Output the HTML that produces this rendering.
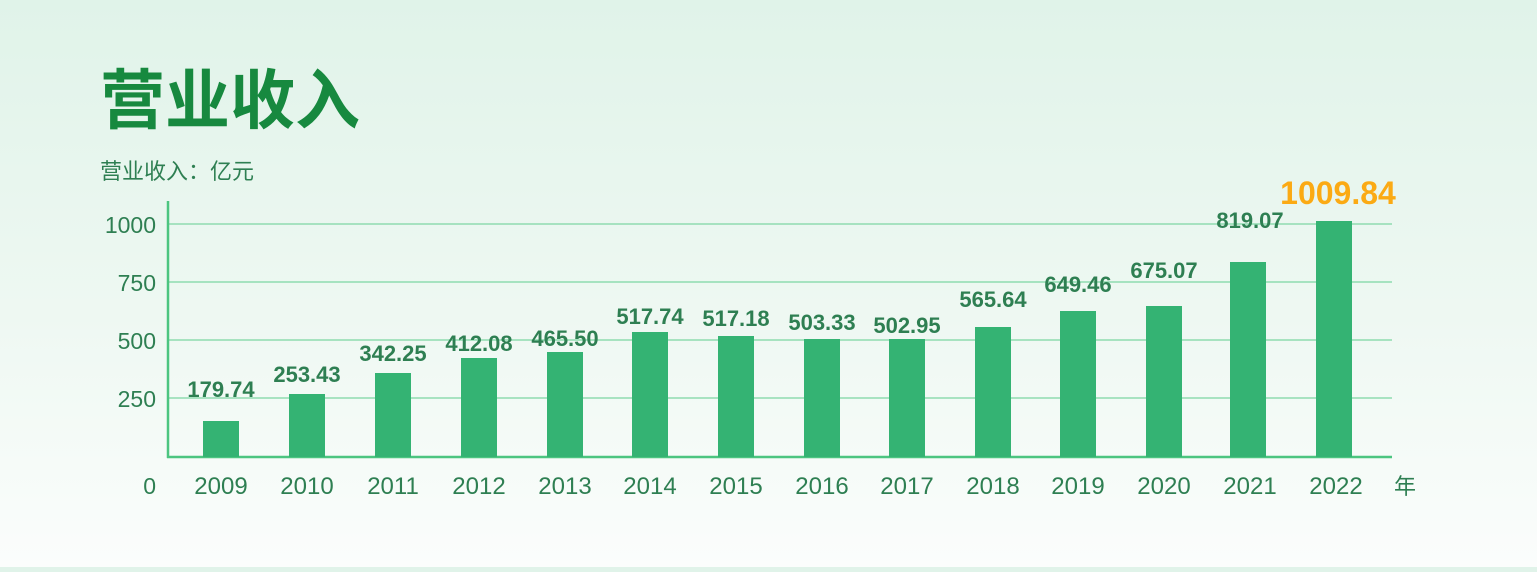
<!DOCTYPE html>
<html><head><meta charset="utf-8"><style>
html,body{margin:0;padding:0}
body{width:1537px;height:567px;overflow:hidden;background:linear-gradient(#e0f3e9,#eef8f2 55%,#fbfdfc);font-family:"Liberation Sans","Noto Sans CJK SC",sans-serif}
</style></head><body>
<svg width="1537" height="567" xmlns="http://www.w3.org/2000/svg" font-family="Liberation Sans, Noto Sans CJK SC, sans-serif">
<text x="100" y="123" font-size="65" font-weight="bold" fill="#17893f" font-family="Noto Sans CJK SC, sans-serif">营业收入</text>
<text x="100" y="179" font-size="22" fill="#2e7f52" font-family="Noto Sans CJK SC, sans-serif">营业收入：亿元</text>
<g stroke="#8fdcb0" stroke-width="1.5">
<line x1="168" y1="224" x2="1392" y2="224"/><line x1="168" y1="282" x2="1392" y2="282"/>
<line x1="168" y1="340" x2="1392" y2="340"/><line x1="168" y1="398" x2="1392" y2="398"/>
</g>
<line x1="168" y1="201" x2="168" y2="458" stroke="#4cc580" stroke-width="2.5"/>
<line x1="167" y1="457" x2="1392" y2="457" stroke="#4cc580" stroke-width="2.5"/>
<g font-size="23" fill="#2e7f52" text-anchor="end">
<text x="156" y="233">1000</text><text x="156" y="291">750</text><text x="156" y="349">500</text><text x="156" y="407">250</text><text x="156" y="494">0</text>
</g>
<g fill="#34b373">
<rect x="203" y="421" width="36" height="36"/><rect x="289" y="394" width="36" height="63"/>
<rect x="375" y="373" width="36" height="84"/><rect x="461" y="358" width="36" height="99"/>
<rect x="547" y="352" width="36" height="105"/><rect x="632" y="332" width="36" height="125"/>
<rect x="718" y="336" width="36" height="121"/><rect x="804" y="339" width="36" height="118"/>
<rect x="889" y="339" width="36" height="118"/><rect x="975" y="327" width="36" height="130"/>
<rect x="1060" y="311" width="36" height="146"/><rect x="1146" y="306" width="36" height="151"/>
<rect x="1230" y="262" width="36" height="195"/><rect x="1316" y="221" width="36" height="236"/>
</g>
<g font-size="22" font-weight="bold" fill="#2e7f52" text-anchor="middle">
<text x="221" y="397">179.74</text><text x="307" y="382">253.43</text><text x="393" y="361">342.25</text>
<text x="479" y="351">412.08</text><text x="565" y="346">465.50</text><text x="650" y="324">517.74</text>
<text x="736" y="326">517.18</text><text x="822" y="330">503.33</text><text x="907" y="333">502.95</text>
<text x="993" y="307">565.64</text><text x="1078" y="292">649.46</text><text x="1164" y="278">675.07</text>
<text x="1250" y="228">819.07</text>
</g>
<text x="1338" y="204" font-size="32" font-weight="bold" fill="#fbaa14" text-anchor="middle">1009.84</text>
<g font-size="24" fill="#2e7f52" text-anchor="middle">
<text x="221" y="494">2009</text><text x="307" y="494">2010</text><text x="393" y="494">2011</text>
<text x="479" y="494">2012</text><text x="565" y="494">2013</text><text x="650" y="494">2014</text>
<text x="736" y="494">2015</text><text x="822" y="494">2016</text><text x="907" y="494">2017</text>
<text x="993" y="494">2018</text><text x="1078" y="494">2019</text><text x="1164" y="494">2020</text>
<text x="1250" y="494">2021</text><text x="1336" y="494">2022</text>
<text x="1405" y="494" font-size="22" font-family="Noto Sans CJK SC, sans-serif">年</text>
</g>
</svg>
</body></html>
